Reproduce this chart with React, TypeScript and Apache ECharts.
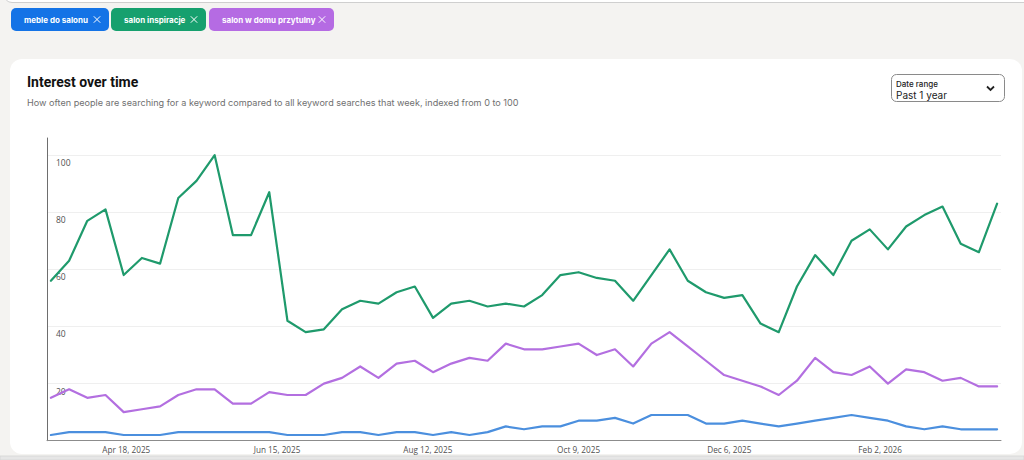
import React, { useEffect, useRef } from "react";
import * as echarts from "echarts";

// Weekly observations (week start dates)
const weeks: string[] = [
  "2025-03-20", "2025-03-27", "2025-04-03", "2025-04-10", "2025-04-17", "2025-04-24",
  "2025-05-01", "2025-05-08", "2025-05-15", "2025-05-22", "2025-05-29", "2025-06-05",
  "2025-06-12", "2025-06-19", "2025-06-26", "2025-07-03", "2025-07-10", "2025-07-17",
  "2025-07-24", "2025-07-31", "2025-08-07", "2025-08-14", "2025-08-21", "2025-08-28",
  "2025-09-04", "2025-09-11", "2025-09-18", "2025-09-25", "2025-10-02", "2025-10-09",
  "2025-10-16", "2025-10-23", "2025-10-30", "2025-11-06", "2025-11-13", "2025-11-20",
  "2025-11-27", "2025-12-04", "2025-12-11", "2025-12-18", "2025-12-25", "2026-01-01",
  "2026-01-08", "2026-01-15", "2026-01-22", "2026-01-29", "2026-02-05", "2026-02-12",
  "2026-02-19", "2026-02-26", "2026-03-05", "2026-03-12", "2026-03-19",
];

const keywords: string[] = ["meble do salonu", "salon inspiracje", "salon w domu przytulny"];
const keywordColors: string[] = ["#1473e6", "#16a06e", "#b56be3"];
const lineColors: string[] = ["#4b8fde", "#1f9a6c", "#b36fe0"];

const mebleDoSalonu: number[] = [
  2, 3, 3, 3, 2, 2, 2, 3, 3, 3, 3, 3, 3, 2, 2, 2, 3, 3, 2, 3,
  3, 2, 3, 2, 3, 5, 4, 5, 5, 7, 7, 8, 6, 9, 9, 9, 6, 6, 7, 6,
  5, 6, 7, 8, 9, 8, 7, 5, 4, 5, 4, 4, 4,
];

const salonInspiracje: number[] = [
  56, 63, 77, 81, 58, 64, 62, 85, 91, 100, 72, 72, 87, 42, 38, 39, 46, 49, 48, 52,
  54, 43, 48, 49, 47, 48, 47, 51, 58, 59, 57, 56, 49, 58, 67, 56, 52, 50, 51, 41,
  38, 54, 65, 58, 70, 74, 67, 75, 79, 82, 69, 66, 83,
];

const salonWDomuPrzytulny: number[] = [
  15, 18, 15, 16, 10, 11, 12, 16, 18, 18, 13, 13, 17, 16, 16, 20, 22, 26, 22, 27,
  28, 24, 27, 29, 28, 34, 32, 32, 33, 34, 30, 32, 26, 34, 38, 33, 28, 23, 21, 19,
  16, 21, 29, 24, 23, 26, 20, 25, 24, 21, 22, 19, 19,
];

const tickDates: string[] = ["2025-04-18", "2025-06-15", "2025-08-12", "2025-10-09", "2025-12-06", "2026-02-02"];

const MONTHS = ["Jan", "Feb", "Mar", "Apr", "May", "Jun", "Jul", "Aug", "Sep", "Oct", "Nov", "Dec"];
const DAY = 24 * 3600 * 1000;

function toTs(s: string): number {
  const [y, m, d] = s.split("-").map(Number);
  return Date.UTC(y, m - 1, d);
}

function fmtDate(ts: number): string {
  const d = new Date(ts);
  return `${MONTHS[d.getUTCMonth()]} ${d.getUTCDate()}, ${d.getUTCFullYear()}`;
}

const UI_FONT = "Inter, 'Noto Sans', sans-serif";
const AXIS_FONT = "'Open Sans', sans-serif";

function chip(x: number, w: number, label: string, color: string) {
  const cx = x + w - 12;
  const cy = 19.5;
  const s = 3.2;
  return {
    type: "group",
    children: [
      { type: "rect", shape: { x, y: 8, width: w, height: 23, r: 5 }, style: { fill: color } },
      {
        type: "text",
        x: x + 13,
        y: cy,
        style: { text: label, fill: "#ffffff", font: `700 8px ${UI_FONT}`, verticalAlign: "middle" },
      },
      { type: "line", shape: { x1: cx - s, y1: cy - s, x2: cx + s, y2: cy + s }, style: { stroke: "#ffffff", lineWidth: 1 } },
      { type: "line", shape: { x1: cx - s, y1: cy + s, x2: cx + s, y2: cy - s }, style: { stroke: "#ffffff", lineWidth: 1 } },
    ],
  };
}

export default function App() {
  const ref = useRef<HTMLDivElement>(null);

  useEffect(() => {
    if (!ref.current) return;
    const chart = echarts.init(ref.current, undefined, { renderer: "svg" });
    const xs = weeks.map(toTs);
    const seriesValues = [mebleDoSalonu, salonInspiracje, salonWDomuPrzytulny];

    chart.setOption({
      animation: false,
      backgroundColor: "#f4f3f1",
      graphic: [
        // strip of the panel above
        {
          type: "rect",
          shape: { x: 4, y: -20, width: 1040, height: 22.5, r: 8 },
          style: { fill: "#ffffff", stroke: "#cfcfcf", lineWidth: 1 },
          z: -10,
        },
        chip(11, 98, keywords[0], keywordColors[0]),
        chip(111, 95, keywords[1], keywordColors[1]),
        chip(209, 125, keywords[2], keywordColors[2]),
        // card
        {
          type: "rect",
          shape: { x: 10, y: 59, width: 1012, height: 395, r: 12 },
          style: { fill: "#ffffff" },
          z: -10,
        },
        // bottom strip
        {
          type: "rect",
          shape: { x: 0, y: 456, width: 1024, height: 4 },
          style: { fill: "#e6e6e6", stroke: "#d4d4d4", lineWidth: 0.8 },
          z: -10,
        },
        {
          type: "text",
          x: 27,
          y: 82,
          style: { text: "Interest over time", fill: "#111111", font: `700 14px Roboto, ${UI_FONT}`, verticalAlign: "middle" },
        },
        {
          type: "text",
          x: 27,
          y: 102,
          style: {
            text: "How often people are searching for a keyword compared to all keyword searches that week, indexed from 0 to 100",
            fill: "#707070",
            font: `400 9.1px ${UI_FONT}`,
            verticalAlign: "middle",
          },
        },
        // date range selector
        {
          type: "rect",
          shape: { x: 891.5, y: 74.5, width: 113, height: 27, r: 5 },
          style: { fill: "#ffffff", stroke: "#8a8a8a", lineWidth: 1 },
        },
        {
          type: "text",
          x: 896,
          y: 83.5,
          style: { text: "Date range", fill: "#222222", font: `500 8px ${UI_FONT}`, verticalAlign: "middle" },
        },
        {
          type: "text",
          x: 896,
          y: 95,
          style: { text: "Past 1 year", fill: "#222222", font: `400 10px ${UI_FONT}`, verticalAlign: "middle" },
        },
        {
          type: "polyline",
          shape: { points: [[987, 86.5], [990.5, 90], [994, 86.5]] },
          style: { stroke: "#222222", lineWidth: 1.8, fill: "none" },
        },
      ],
      grid: { left: 47, right: 23, top: 138, bottom: 19.3, containLabel: false },
      xAxis: {
        type: "value",
        min: xs[0] - 1.5 * DAY,
        max: xs[xs.length - 1] + 1.5 * DAY,
        axisLine: { show: true, onZero: false, lineStyle: { color: "#8c8c8c", width: 1 } },
        axisTick: { show: false },
        splitLine: { show: false },
        axisLabel: {
          customValues: tickDates.map(toTs),
          formatter: (v: number) => fmtDate(v),
          color: "#505050",
          fontFamily: AXIS_FONT,
          fontSize: 8.2,
          margin: 5,
        },
      },
      yAxis: {
        type: "value",
        min: 0,
        max: 106,
        interval: 20,
        axisLine: { show: true, lineStyle: { color: "#6e6e6e", width: 1 } },
        axisTick: { show: false },
        splitLine: { show: true, showMaxLine: false, showMinLine: false, lineStyle: { color: "#efefef", width: 1 } },
        axisLabel: {
          inside: true,
          showMinLabel: false,
          showMaxLabel: false,
          verticalAlign: "top",
          padding: [3, 0, 0, 0],
          margin: 9,
          color: "#505050",
          fontFamily: AXIS_FONT,
          fontSize: 8.5,
        },
      },
      series: keywords.map((name, k) => ({
        name,
        type: "line",
        data: xs.map((t, i) => [t, seriesValues[k][i]]),
        showSymbol: false,
        symbol: "none",
        smooth: false,
        lineStyle: { color: lineColors[k], width: 2.2, join: "round", cap: "round" },
        itemStyle: { color: lineColors[k] },
      })),
    });

    return () => chart.dispose();
  }, []);

  return <div ref={ref} style={{ position: "absolute", left: 0, top: 0, width: 1024, height: 460 }} />;
}
